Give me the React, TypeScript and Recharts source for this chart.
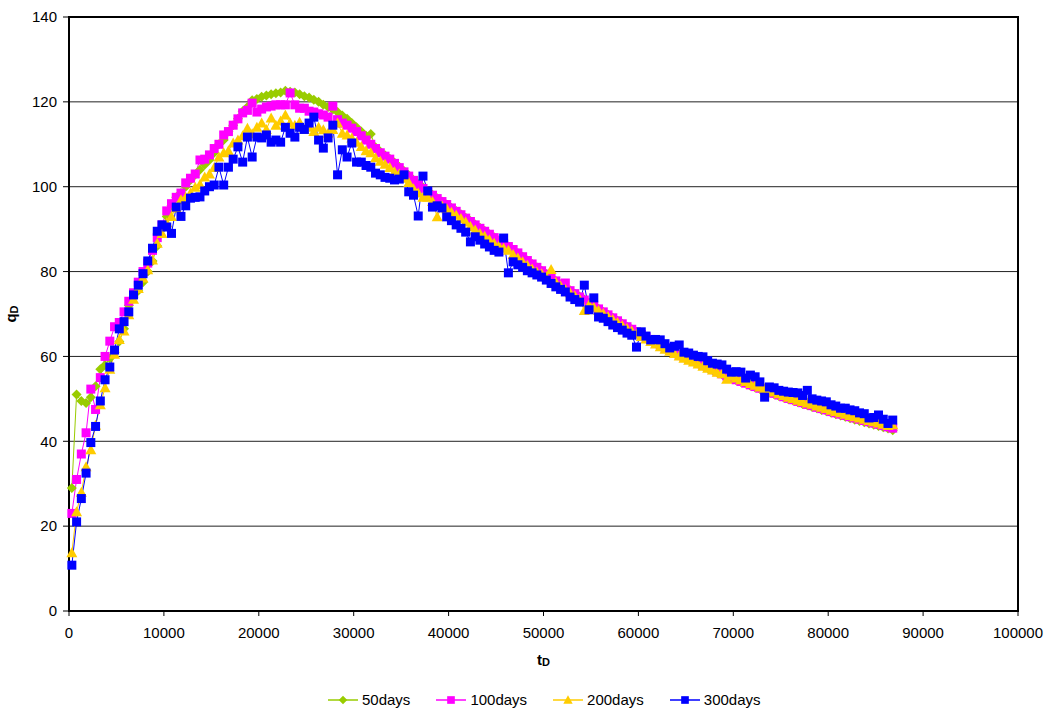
import React from 'react';
import { LineChart, Line, XAxis, YAxis, CartesianGrid, ReferenceArea, Label, Legend } from 'recharts';

const FONT = '"Liberation Sans", Arial, sans-serif';

const tD = [
  300, 800, 1300, 1800, 2300, 2800, 3300, 3800, 4300, 4800,
  5300, 5800, 6300, 6800, 7300, 7800, 8300, 8800, 9300, 9800,
  10300, 10800, 11300, 11800, 12300, 12800, 13300, 13800, 14300, 14800,
  15300, 15800, 16300, 16800, 17300, 17800, 18300, 18800, 19300, 19800,
  20300, 20800, 21300, 21800, 22300, 22800, 23300, 23800, 24300, 24800,
  25300, 25800, 26300, 26800, 27300, 27800, 28300, 28800, 29300, 29800,
  30300, 30800, 31300, 31800, 32300, 32800, 33300, 33800, 34300, 34800,
  35300, 35800, 36300, 36800, 37300, 37800, 38300, 38800, 39300, 39800,
  40300, 40800, 41300, 41800, 42300, 42800, 43300, 43800, 44300, 44800,
  45300, 45800, 46300, 46800, 47300, 47800, 48300, 48800, 49300, 49800,
  50300, 50800, 51300, 51800, 52300, 52800, 53300, 53800, 54300, 54800,
  55300, 55800, 56300, 56800, 57300, 57800, 58300, 58800, 59300, 59800,
  60300, 60800, 61300, 61800, 62300, 62800, 63300, 63800, 64300, 64800,
  65300, 65800, 66300, 66800, 67300, 67800, 68300, 68800, 69300, 69800,
  70300, 70800, 71300, 71800, 72300, 72800, 73300, 73800, 74300, 74800,
  75300, 75800, 76300, 76800, 77300, 77800, 78300, 78800, 79300, 79800,
  80300, 80800, 81300, 81800, 82300, 82800, 83300, 83800, 84300, 84800,
  85300, 85800, 86300, 86800,
];

const q50 = [
  29, 51, 49.5, 49, 50.4, 53, 57, 58, 59.6, 61,
  63.5, 66.5, 72, 74, 75.5, 77.5, 80, 82.5, 86, 90,
  93, 95.5, 97.5, 98.5, 100, 101.6, 102.8, 104, 105.2, 106.3,
  108, 110, 111, 113, 114.5, 116, 117.8, 118.8, 120.4, 120.7,
  121.2, 121.5, 121.8, 122, 122.2, 122.6, 122.4, 122.2, 121.8, 121.3,
  121, 120.5, 120, 119.3, 118.8, 118.2, 117.6, 116.8, 116, 115,
  114, 113, 112, 112.4, 109.3, 108.3, 107.4, 106.6, 105.7, 104.7,
  103.7, 102.7, 101.6, 100.6, 99.8, 99, 98.1, 97.3, 96.5, 95.8,
  95, 94.3, 93.5, 92.7, 91.9, 91.1, 90.3, 89.6, 88.8, 88.1,
  87.4, 86.6, 85.9, 85.1, 84.3, 83.5, 82.6, 81.8, 81, 80.2,
  79.4, 78.6, 77.8, 77, 76.3, 75.6, 74.8, 74.1, 73.4, 72.6,
  71.9, 71.2, 70.5, 69.8, 69.1, 68.4, 67.7, 67, 66.4, 65.8,
  65.1, 64.5, 63.9, 63.3, 62.7, 62.1, 61.5, 60.9, 60.3, 59.8,
  59.3, 58.8, 58.3, 57.8, 57.3, 56.8, 56.3, 55.8, 55.3, 54.9,
  54.4, 54, 53.6, 53.1, 52.7, 52.3, 51.9, 51.5, 51.1, 50.7,
  50.3, 49.9, 49.6, 49.2, 48.8, 48.5, 48.1, 47.8, 47.4, 47.1,
  46.7, 46.4, 46.1, 45.8, 45.4, 45.1, 44.8, 44.5, 44.2, 43.9,
  43.6, 43.3, 43, 42.6,
];

const q100 = [
  23, 31, 37, 42, 52.3, 47.5, 55, 60, 63.6, 67,
  68, 70.5, 73, 75, 77.5, 80, 82, 85, 88, 91,
  94.3, 96, 97.5, 98.5, 100.9, 102, 103, 106.3, 106.5, 107.5,
  109, 110, 112.2, 113, 114.5, 116, 117.4, 118, 119.7, 117.6,
  118.3, 118.8, 119, 119.3, 119.3, 119.3, 122.1, 119.3, 118.5, 118.5,
  117.8, 117.6, 117.2, 116.9, 116.4, 119, 115.8, 115, 114.5, 113.8,
  113, 112, 111, 110, 109, 108, 107.2, 106.5, 105.5, 104.5,
  103.5, 102.5, 101.5, 100.5, 99.6, 98.8, 98, 97.2, 96.5, 95.8,
  95, 94.2, 93.4, 92.6, 91.8, 91, 90.2, 89.5, 88.8, 88,
  87.3, 86.6, 85.9, 85.2, 84.4, 83.5, 82.6, 81.8, 81, 80.2,
  79.4, 78.6, 77.8, 77, 77.3, 75.5, 74.8, 74, 73.3, 72.6,
  71.9, 71.2, 70.5, 69.8, 69.1, 68.4, 67.7, 67, 66.4, 65.8,
  65.2, 64.6, 64, 63.4, 62.8, 62.2, 61.6, 61, 60.4, 59.9,
  59.4, 58.9, 58.4, 57.9, 57.4, 56.9, 56.4, 55.9, 55.4, 55,
  54.5, 54.1, 53.7, 53.3, 52.9, 52.5, 52.1, 51.7, 51.3, 50.9,
  50.5, 50.1, 49.8, 49.4, 49.1, 48.7, 48.4, 48, 47.7, 47.4,
  47, 46.7, 46.4, 46.1, 45.8, 45.5, 45.2, 44.9, 44.6, 44.3,
  44, 43.7, 43.4, 43.1,
];

const q200 = [
  13.7, 23.4, 28, 34, 38, 43.8, 48.6, 52.6, 57, 60.5,
  64, 66, 69.8, 73.5, 76, 78.5, 80.4, 82.7, 86.7, 89,
  91.5, 93, 95, 96.9, 97.5, 98.5, 99.9, 100.5, 102.3, 103,
  104.5, 107, 108, 108.5, 110.3, 111, 112, 113.8, 112.5, 114,
  115, 113.5, 116.2, 114.5, 115.5, 116.9, 115, 114.5, 115.2, 113.5,
  114, 113, 114, 113.4, 112.6, 113.5, 115, 112.6, 112.2, 111.5,
  110.5, 109.5, 108.5, 108, 106.8, 106, 105.3, 104.5, 103.5, 103,
  102, 101, 99.5, 98.5, 97.5, 97.5, 96.5, 92.9, 95.5, 94.8,
  94, 93.3, 92.5, 91.7, 90.6, 89.8, 89, 88.3, 87.5, 86.7,
  86, 85.5, 85, 84, 83.2, 82.3, 81.5, 80.6, 79.9, 79.5,
  78.8, 80.5, 77.5, 76.6, 75.8, 75, 74.3, 73.5, 70.8, 72.2,
  71.6, 70.8, 70.1, 69.4, 68.7, 68, 67.3, 66.6, 66, 65.3,
  64.7, 64.1, 63.5, 62.9, 62.3, 61.7, 61.2, 60.7, 60.1, 59.6,
  59.1, 58.7, 58.2, 57.7, 57.2, 56.8, 56.3, 55.9, 54.6, 55.3,
  54.9, 54.5, 54.1, 53.6, 53.2, 52.8, 52.4, 52, 51.6, 51.2,
  50.8, 50.4, 50.1, 49.7, 49.4, 49, 48.7, 48.3, 48, 47.7,
  47.3, 47, 46.7, 46.4, 46.1, 45.8, 45.5, 45.2, 44.9, 44.6,
  44.3, 44, 43.7, 43.9,
];

const q300 = [
  10.8, 21, 26.5, 32.5, 39.7, 43.5, 49.5, 54.5, 57.5, 61.5,
  66.5, 68.2, 70.5, 74.5, 76.8, 79.5, 82.5, 85.5, 89.5, 91,
  90.5, 89, 95.2, 93, 95.5, 97.3, 97.5, 97.6, 99, 100,
  100.4, 104.6, 100.4, 104.6, 106.5, 109.4, 105.8, 111.7, 107, 111.7,
  111.5, 112.2, 110.5, 111, 110.5, 114, 112.6, 111.7, 114, 113.5,
  115, 116.4, 111, 109.1, 111.5, 114.5, 102.8, 108.7, 107, 110.3,
  105.8, 105.8, 105, 104.6, 103.2, 102.8, 102.2, 102, 101.6, 101.8,
  102.8, 98.8, 98, 93.1, 102.5, 99, 95.2, 95.5, 95, 92.9,
  92, 91, 90.2, 89.3, 87, 88.2, 87.4, 86.5, 85.8, 85,
  84.6, 87.9, 79.7, 82.3, 81.6, 81, 80.2, 79.7, 79.2, 78.7,
  78, 77.2, 76.4, 75.8, 75.2, 74, 73.4, 72.8, 76.8, 71,
  73.8, 69.3, 69, 68.2, 67.4, 66.8, 66.2, 65.5, 65, 62.2,
  65.8, 64.8, 63.9, 64, 63.9, 63, 62, 62.4, 62.7, 61,
  60.8, 60.3, 60, 59.9, 59, 58.4, 58.2, 58, 57, 56.3,
  56.4, 56.3, 54.9, 55.6, 55.2, 54, 50.4, 52.8, 52.6, 52,
  51.8, 51.6, 51.5, 51.4, 50.8, 52, 50, 49.7, 49.5, 49.3,
  48.6, 48.3, 47.8, 47.8, 47.4, 47.2, 46.7, 46.5, 45.5, 45.6,
  46.2, 45.2, 44.2, 45,
];

const xTicks = [0, 10000, 20000, 30000, 40000, 50000, 60000, 70000, 80000, 90000, 100000];
const yTicks = [0, 20, 40, 60, 80, 100, 120, 140];

const seriesDefs = [
  { key: 'q50', name: '50days', color: '#99CC00', shape: 'diamond' },
  { key: 'q100', name: '100days', color: '#FF00FF', shape: 'square' },
  { key: 'q200', name: '200days', color: '#FFCC00', shape: 'triangle' },
  { key: 'q300', name: '300days', color: '#0000FF', shape: 'square' },
];

const data = tD.map((t, i) => ({ t, q50: q50[i], q100: q100[i], q200: q200[i], q300: q300[i] }));

function Marker({ cx, cy, shape, color, s = 1 }: { cx: number; cy: number; shape: string; color: string; s?: number }) {
  if (shape === 'diamond') {
    const r = 5 * s;
    return <polygon points={`${cx},${cy - r} ${cx + r},${cy} ${cx},${cy + r} ${cx - r},${cy}`} fill={color} />;
  }
  if (shape === 'triangle') {
    const w = 5.5 * s;
    return <polygon points={`${cx},${cy - 5.5 * s} ${cx + w},${cy + 4.5 * s} ${cx - w},${cy + 4.5 * s}`} fill={color} />;
  }
  const h = 4.5 * s;
  return <rect x={cx - h} y={cy - h} width={2 * h} height={2 * h} fill={color} />;
}

const makeDot = (shape: string, color: string) => (props: any) => {
  const { cx, cy, index } = props;
  if (cx == null || cy == null) return <g key={`d-${index}`} />;
  return (
    <g key={`d-${index}`}>
      <Marker cx={cx} cy={cy} shape={shape} color={color} />
    </g>
  );
};

const LegendContent = () => (
  <div
    style={{
      display: 'flex',
      alignItems: 'center',
      height: 20,
      paddingLeft: 328,
      fontFamily: FONT,
      fontSize: 15,
      color: '#000',
    }}
  >
    {seriesDefs.map((s) => (
      <div key={s.key} style={{ display: 'flex', alignItems: 'center', marginRight: 26 }}>
        <svg width={30} height={12} style={{ display: 'block' }}>
          <line x1={0} y1={6} x2={30} y2={6} stroke={s.color} strokeWidth={1.5} />
          <Marker cx={15} cy={6} shape={s.shape} color={s.color} s={0.85} />
        </svg>
        <span style={{ marginLeft: 4, lineHeight: '20px' }}>{s.name}</span>
      </div>
    ))}
  </div>
);

const YTitle = (props: any) => {
  const vb = props.viewBox || { x: 0, y: 0, width: 0, height: 0 };
  const x = vb.x + 16;
  const y = vb.y + vb.height / 2;
  return (
    <text
      x={x}
      y={y}
      transform={`rotate(-90, ${x}, ${y})`}
      textAnchor="middle"
      fontFamily={FONT}
      fontWeight="bold"
      fontSize={15}
      fill="#000"
    >
      q<tspan fontSize={11} dy={2}>D</tspan>
    </text>
  );
};

const XTitle = (props: any) => {
  const vb = props.viewBox || { x: 0, y: 0, width: 0, height: 0 };
  const x = vb.x + vb.width / 2;
  const y = vb.y + 54;
  return (
    <text x={x} y={y} textAnchor="middle" fontFamily={FONT} fontWeight="bold" fontSize={15} fill="#000">
      t<tspan fontSize={11} dy={1}>D</tspan>
    </text>
  );
};

export default function App() {
  return (
    <div style={{ position: 'absolute', left: 0, top: 0, background: '#fff' }}>
      <LineChart
        width={1045}
        height={713}
        data={data}
        margin={{ top: 17, right: 27, left: 0, bottom: 3 }}
      >
        <CartesianGrid vertical={false} stroke="#222" strokeWidth={1} />
        <XAxis
          dataKey="t"
          type="number"
          domain={[0, 100000]}
          ticks={xTicks}
          interval={0}
          height={79}
          tickSize={5}
          tickMargin={11}
          axisLine={{ stroke: '#000', strokeWidth: 2 }}
          tickLine={{ stroke: '#000' }}
          tick={{ fill: '#000', fontSize: 15, fontFamily: FONT }}
        >
          <Label content={<XTitle />} />
        </XAxis>
        <YAxis
          type="number"
          domain={[0, 140]}
          ticks={yTicks}
          interval={0}
          width={69}
          tickSize={6}
          tickMargin={6}
          axisLine={{ stroke: '#000', strokeWidth: 2 }}
          tickLine={{ stroke: '#000' }}
          tick={{ fill: '#000', fontSize: 15, fontFamily: FONT }}
        >
          <Label content={<YTitle />} />
        </YAxis>
        <ReferenceArea
          x1={0}
          x2={100000}
          y1={0}
          y2={140}
          fill="none"
          fillOpacity={0}
          stroke="#000"
          strokeWidth={2}
          ifOverflow="extendDomain"
        />
        {seriesDefs.map((s) => (
          <Line
            key={s.key}
            type="linear"
            dataKey={s.key}
            name={s.name}
            stroke={s.color}
            strokeWidth={1}
            dot={makeDot(s.shape, s.color)}
            activeDot={false}
            isAnimationActive={false}
          />
        ))}
        <Legend verticalAlign="bottom" align="left" content={<LegendContent />} height={20} />
      </LineChart>
    </div>
  );
}
